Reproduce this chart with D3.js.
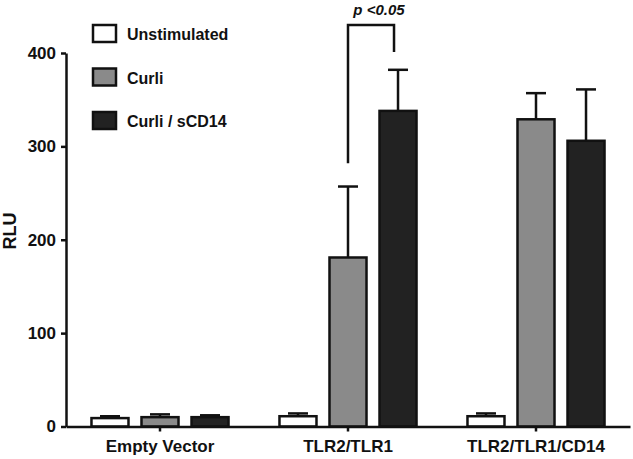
<!DOCTYPE html>
<html>
<head>
<meta charset="utf-8">
<script src="https://cdn.jsdelivr.net/npm/d3@7"></script>
<style>
  body { margin: 0; background: #fff; }
  text { font-family: "Liberation Sans", Arial, sans-serif; font-weight: bold; fill: #111; }
  .axis path, .axis line { stroke: #111; stroke-width: 2.5; }
  .axis text { font-size: 17px; }
</style>
</head>
<body>
<svg width="633" height="459"></svg>
<script>
// Data
var groups = ["Empty Vector", "TLR2/TLR1", "TLR2/TLR1/CD14"];
var series = ["Unstimulated", "Curli", "Curli / sCD14"];
var colors = ["#ffffff", "#8a8a8a", "#222222"];
var unstimulated = [9, 11, 11];
var curli = [10, 181, 329];
var curliSCD14 = [10, 338, 306];
var unstimulatedErr = [11, 14, 14];
var curliErr = [13, 257, 357];
var curliSCD14Err = [12, 382, 361];
var yTicks = [0, 100, 200, 300, 400];
// significance bracket, in RLU: left foot, top, right foot
var bracket = [282, 430, 401];

var svg = d3.select("svg");

// scales
var x0 = d3.scaleBand().domain(groups).range([66, 630]).paddingInner(0.271).paddingOuter(0.1355);
var x1 = d3.scaleBand().domain(series).range([0, x0.bandwidth()]).paddingInner(0.26);
var y = d3.scaleLinear().domain([0, 400]).range([426.5, 53]);
var color = d3.scaleOrdinal().domain(series).range(colors);

var rows = [];
groups.forEach(function(g, i) {
  rows.push({group: g, key: series[0], v: unstimulated[i], err: unstimulatedErr[i]});
  rows.push({group: g, key: series[1], v: curli[i], err: curliErr[i]});
  rows.push({group: g, key: series[2], v: curliSCD14[i], err: curliSCD14Err[i]});
});
function cx(d) { return x0(d.group) + x1(d.key) + x1.bandwidth() / 2; }

// error bars (under the bars)
var eb = svg.append("g").attr("stroke", "#111").attr("stroke-width", 2.5);
eb.selectAll(".ev").data(rows).enter().append("line")
    .attr("x1", cx).attr("x2", cx)
    .attr("y1", function(d) { return y(d.v); })
    .attr("y2", function(d) { return y(d.err); });
eb.selectAll(".ec").data(rows).enter().append("line")
    .attr("x1", function(d) { return cx(d) - 10; })
    .attr("x2", function(d) { return cx(d) + 10; })
    .attr("y1", function(d) { return y(d.err); })
    .attr("y2", function(d) { return y(d.err); });

// bars
svg.append("g").selectAll("rect").data(rows).enter().append("rect")
    .attr("x", function(d) { return x0(d.group) + x1(d.key); })
    .attr("y", function(d) { return y(d.v); })
    .attr("width", x1.bandwidth())
    .attr("height", function(d) { return y(0) - y(d.v); })
    .attr("fill", function(d) { return color(d.key); })
    .attr("stroke", "#111")
    .attr("stroke-width", 2.5);

// axes
svg.append("g").attr("class", "axis")
    .attr("transform", "translate(66,0)")
    .call(d3.axisLeft(y).tickValues(yTicks).tickSize(5).tickSizeOuter(0).tickPadding(5));
svg.append("g").attr("class", "axis")
    .attr("transform", "translate(0," + y(0) + ")")
    .call(d3.axisBottom(x0).tickSize(5).tickSizeOuter(0).tickPadding(3))
  .selectAll("text").attr("dy", "1.05em");

svg.append("text")
    .attr("transform", "translate(16,231) rotate(-90)")
    .attr("text-anchor", "middle")
    .style("font-size", "18px")
    .text("RLU");

// significance bracket
var bx1 = cx({group: groups[1], key: series[1]}),
    bx2 = cx({group: groups[1], key: series[2]}) - 4;
svg.append("path")
    .attr("d", "M" + bx1 + "," + y(bracket[0]) + "V" + y(bracket[1]) + "H" + bx2 + "V" + y(bracket[2]))
    .attr("fill", "none").attr("stroke", "#111").attr("stroke-width", 2.5);
svg.append("text")
    .attr("x", (bx1 + bx2) / 2 + 8)
    .attr("y", 15)
    .attr("text-anchor", "middle")
    .style("font-size", "15px")
    .style("font-style", "italic")
    .text("p <0.05");

// legend
var leg = svg.append("g").selectAll("g").data(series).enter().append("g")
    .attr("transform", function(d, i) { return "translate(93," + (25 + i * 43.5) + ")"; });
leg.append("rect")
    .attr("width", 23).attr("height", 17)
    .attr("fill", function(d) { return color(d); })
    .attr("stroke", "#111").attr("stroke-width", 2.5);
leg.append("text")
    .attr("x", 34).attr("y", 15)
    .style("font-size", "16px")
    .text(function(d) { return d; });
</script>
</body>
</html>
